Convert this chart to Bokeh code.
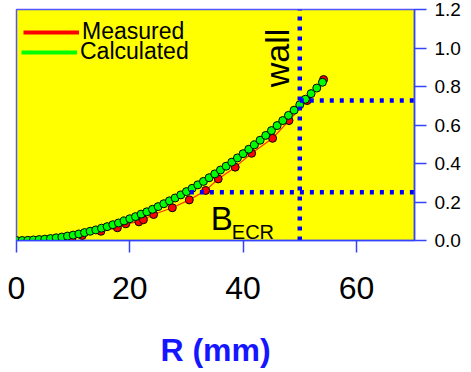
import math
from bokeh.plotting import figure
from bokeh.models import Range1d, FixedTicker, NumeralTickFormatter, Legend, LegendItem
from bokeh.core.properties import value
from bokeh.embed import file_html
from bokeh.resources import INLINE

# ---- data ----
R_calc = list(range(0, 55))
B_calc = [0.000, 0.000, 0.001, 0.003, 0.005, 0.007, 0.010, 0.014, 0.018, 0.023,
          0.028, 0.034, 0.041, 0.048, 0.055, 0.064, 0.072, 0.082, 0.091, 0.102,
          0.113, 0.124, 0.137, 0.149, 0.162, 0.176, 0.191, 0.206, 0.221, 0.237,
          0.254, 0.271, 0.289, 0.307, 0.326, 0.346, 0.366, 0.386, 0.407, 0.429,
          0.451, 0.474, 0.497, 0.521, 0.546, 0.571, 0.597, 0.623, 0.650, 0.677,
          0.705, 0.734, 0.763, 0.792, 0.822]

R_meas = [9.8, 11.6, 14.9, 17.8, 19.3, 21.6, 22.4, 24.2, 27.5, 30.5,
          33.4, 35.6, 38.6, 41.5, 45.2, 48.1, 51.3, 54.2]
B_meas = [0.014, 0.026, 0.048, 0.066, 0.087, 0.097, 0.108, 0.135, 0.170, 0.211,
          0.260, 0.320, 0.381, 0.453, 0.531, 0.623, 0.727, 0.836]

x_ticks = [0, 20, 40, 60]
y_ticks = [0.0, 0.2, 0.4, 0.6, 0.8, 1.0, 1.2]

x_max = 70.25
y_max = 1.2
wall_R = 50.0
wall_B = 0.727
ecr_R_start = 30.6
ecr_B = 0.251

FONT = "Liberation Sans"
AXIS_BLUE = "#3344ff"

p = figure(frame_width=398, frame_height=231,
           x_range=Range1d(0, x_max), y_range=Range1d(0, y_max),
           y_axis_location="right",
           output_backend="svg", toolbar_location=None,
           min_border_left=16, min_border_top=9, min_border_bottom=0, min_border_right=0,
           background_fill_color="#ffff00", border_fill_color="white",
           outline_line_color="#5555ff", outline_line_width=1.5)
p.grid.visible = False

# data lines
p.line(R_meas, B_meas, line_color="#ff3300", line_width=1.2)
p.line(R_calc, B_calc, line_color="#00cc00", line_width=1)
# markers
p.scatter(R_meas, B_meas, size=8, fill_color="#ff0000", line_color="black", line_width=1)
p.scatter(R_calc, B_calc, size=8, fill_color="#00ff00", line_color="black", line_width=1)

# legend-only renderers (thick lines)
red_leg = p.line(R_meas, B_meas, line_color="#ff0000", line_width=4, visible=False)
green_leg = p.line(R_calc, B_calc, line_color="#00ff00", line_width=4, visible=False)

# dotted guide lines
p.segment(x0=[wall_R, wall_R, ecr_R_start], y0=[0, wall_B, ecr_B],
          x1=[wall_R, x_max, x_max], y1=[y_max, wall_B, ecr_B],
          line_color="#0000ff", line_width=4.5, line_dash="4 6")

# annotations
p.text(x=[46.0], y=[0.948], text=["wall"], angle=math.pi / 2,
       text_align="center", text_baseline="alphabetic",
       text_font=value(FONT), text_font_size="34px", text_color="black")
p.text(x=[34.3], y=[0.114], text=["B"], text_align="left", text_baseline="alphabetic",
       text_font=value(FONT), text_font_size="33px", text_color="black")
p.text(x=[38.0], y=[0.042], text=["ECR"], text_align="left", text_baseline="alphabetic",
       text_font=value(FONT), text_font_size="20px", text_color="black")

# axes
xa = p.xaxis[0]
xa.ticker = FixedTicker(ticks=x_ticks)
xa.axis_line_color = AXIS_BLUE
xa.axis_line_width = 1.5
xa.major_tick_line_color = AXIS_BLUE
xa.major_tick_line_width = 1.5
xa.major_tick_out = 12
xa.major_tick_in = 0
xa.minor_tick_line_color = None
xa.major_label_text_font = FONT
xa.major_label_text_font_size = "32px"
xa.major_label_text_color = "black"
xa.major_label_standoff = 24
xa.axis_label = "R (mm)"
xa.axis_label_text_font = FONT
xa.axis_label_text_font_size = "32px"
xa.axis_label_text_font_style = "bold"
xa.axis_label_text_color = "#1515ff"
xa.axis_label_standoff = 30

ya = p.yaxis[0]
ya.ticker = FixedTicker(ticks=y_ticks)
ya.formatter = NumeralTickFormatter(format="0.0")
ya.axis_line_color = AXIS_BLUE
ya.axis_line_width = 1.5
ya.major_tick_line_color = AXIS_BLUE
ya.major_tick_line_width = 1.5
ya.major_tick_out = 12
ya.major_tick_in = 0
ya.minor_tick_line_color = None
ya.major_label_text_font = FONT
ya.major_label_text_font_size = "19px"
ya.major_label_text_color = "black"
ya.major_label_standoff = 8


def make_legend(label, rend, loc):
    lg = Legend(items=[LegendItem(label=label, renderers=[rend])], location=loc,
                padding=0, margin=0, border_line_color=None, background_fill_alpha=0,
                glyph_width=56, glyph_height=18, label_height=18, label_standoff=3,
                label_text_font=FONT, label_text_font_size="23px",
                label_text_color="black", inactive_fill_alpha=0)
    return lg


p.add_layout(make_legend("Measured", red_leg, (7, 195)))
p.add_layout(make_legend("Calculated", green_leg, (5, 175)))

open("out.html", "w").write(file_html(p, INLINE))
